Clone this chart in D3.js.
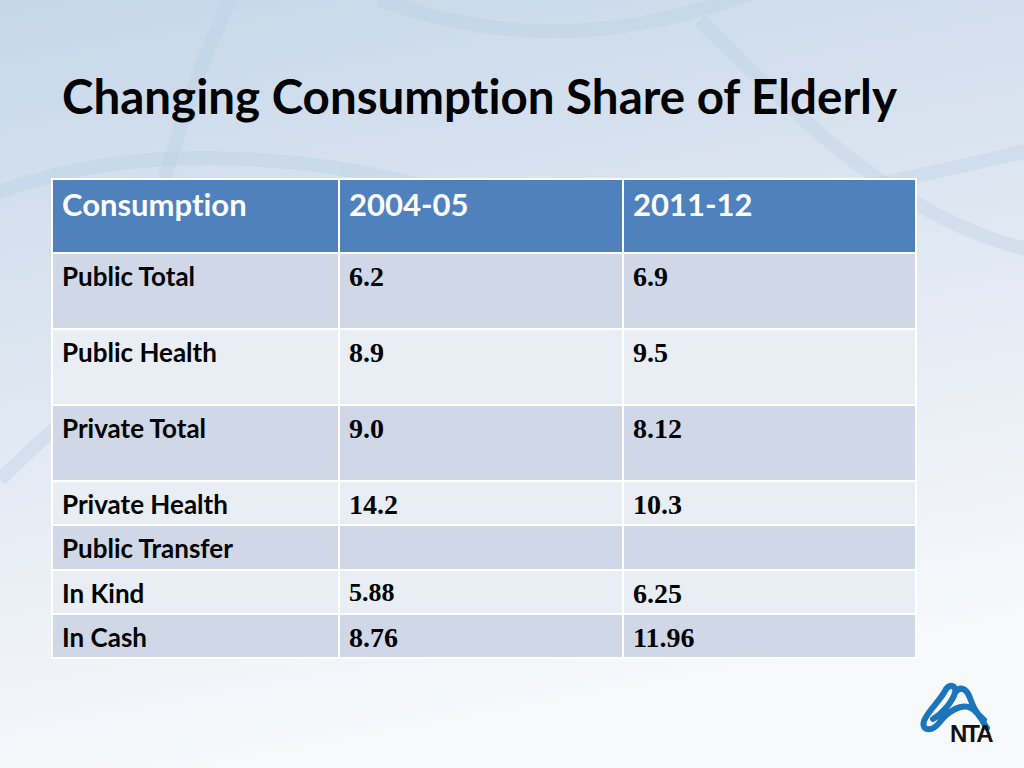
<!DOCTYPE html>
<html><head><meta charset="utf-8">
<script src="https://cdn.jsdelivr.net/npm/d3@7"></script>
<style>html,body{margin:0;padding:0;overflow:hidden;background:#fff} text{font-variant-ligatures:none}</style>
</head><body>
<svg id="c" width="1024" height="768"></svg>
<script>
const title = "Changing Consumption Share of Elderly";
const headers = ["Consumption", "2004-05", "2011-12"];
const rowLabels = ["Public Total", "Public Health", "Private Total", "Private Health", "Public Transfer", "In Kind", "In Cash"];
const values0405 = ["6.2", "8.9", "9.0", "14.2", "", "5.88", "8.76"];
const values1112 = ["6.9", "9.5", "8.12", "10.3", "", "6.25", "11.96"];

const W = 1024, H = 768;
const svg = d3.select("#c");
const defs = svg.append("defs");
const g = defs.append("linearGradient").attr("id","bg").attr("x1",0).attr("y1",0).attr("x2",0.25).attr("y2",1);
g.append("stop").attr("offset","0%").attr("stop-color","#c6d7ea");
g.append("stop").attr("offset","45%").attr("stop-color","#dde6f1");
g.append("stop").attr("offset","100%").attr("stop-color","#f7f9fb");
svg.append("rect").attr("width",W).attr("height",H).attr("fill","url(#bg)");

const curves = [
  "M235,-10 C200,60 175,140 150,230 C130,300 110,360 90,420",
  "M-20,200 C120,140 300,150 460,195 C600,235 760,215 1030,150",
  "M380,0 C520,50 640,35 760,-10",
  "M700,20 C800,120 900,220 1030,250",
  "M0,480 C20,460 40,440 60,425"
];
svg.append("g").selectAll("path").data(curves).join("path")
  .attr("d", d=>d).attr("fill","none").attr("stroke","#b9cfe4").attr("stroke-width",14).attr("opacity",0.35);

svg.append("text").attr("x",62).attr("y",114).text(title)
  .attr("font-family","Lato, 'Open Sans', sans-serif").attr("font-weight","bold")
  .attr("font-size",44).attr("fill","#000").attr("id","title");
const tn = document.getElementById("title");
const tl = tn.getComputedTextLength();
d3.select(tn).attr("font-size", 44*835/tl);

const colWidths = [287, 284, 293];
const colLeft = d3.cumsum([52, ...colWidths]).slice(0,3);
const x = d3.scaleOrdinal().domain(headers).range(colLeft);
const w = d3.scaleOrdinal().domain(headers).range(colWidths);

const rowHeights = [76,76,76,44,45,44,44];
const headerTop = 179, headerH = 74;
const tops = []; let acc = headerTop + headerH;
rowHeights.forEach(h=>{tops.push(acc); acc+=h;});
const rows = rowLabels.map((l,i)=>({label:l, v:[l, values0405[i], values1112[i]], top:tops[i], h:rowHeights[i], i}));

const table = svg.append("g");
table.selectAll("rect.h").data(headers).join("rect").attr("class","h")
  .attr("x",d=>x(d)).attr("y",headerTop).attr("width",d=>w(d)).attr("height",headerH)
  .attr("fill","#4f81bd").attr("stroke","#fff").attr("stroke-width",2);
table.selectAll("text.h").data(headers).join("text").attr("class","h")
  .attr("x",d=>x(d)+10).attr("y",headerTop+37).text(d=>d)
  .attr("font-family","Lato, 'Open Sans', sans-serif").attr("font-weight","bold").attr("font-size",31).attr("fill","#fff");

const rg = table.selectAll("g.r").data(rows).join("g").attr("class","r");
rg.selectAll("rect").data(r=>headers.map(h=>({h, r}))).join("rect")
  .attr("x",d=>x(d.h)).attr("y",d=>d.r.top).attr("width",d=>w(d.h)).attr("height",d=>d.r.h)
  .attr("fill",d=>d.r.i%2===0?"#d0d8e8":"#e9edf4").attr("stroke","#fff").attr("stroke-width",2);
rg.selectAll("text").data(r=>headers.map((h,j)=>({h, j, t:r.v[j], r}))).join("text")
  .attr("x",d=>x(d.h)+10).attr("y",d=>d.r.top+33 - (d.t==="5.88"?2:0)).text(d=>d.t)
  .attr("font-family",d=>d.j===0?"Lato, 'Open Sans', sans-serif":"'Liberation Serif', 'Times New Roman', serif")
  .attr("font-weight","bold").attr("font-size",d=>d.j===0?26:(d.t==="5.88"?26:28)).attr("fill","#000");

// NTA logo
const logo = svg.append("g");
logo.append("path")
  .attr("d","M933,719 C943,713 952,702 955,693 C957,685 949,683 945,691 C939,702 928,711 924,721 C921,731 932,732 939,723 C947,712 961,703 971,708 C979,712 982,721 987,728 M955,693 C960,685 967,689 970,698 C973,706 976,714 984,720")
  .attr("fill","none").attr("stroke","#1b75bb").attr("stroke-width",6).attr("stroke-linecap","round");
logo.append("text").attr("x",950).attr("y",742).text("NTA")
  .attr("font-family","'Liberation Sans', Arial, sans-serif").attr("font-weight","bold").attr("font-size",24)
  .attr("letter-spacing",-2).attr("fill","#111");
</script>
</body></html>
